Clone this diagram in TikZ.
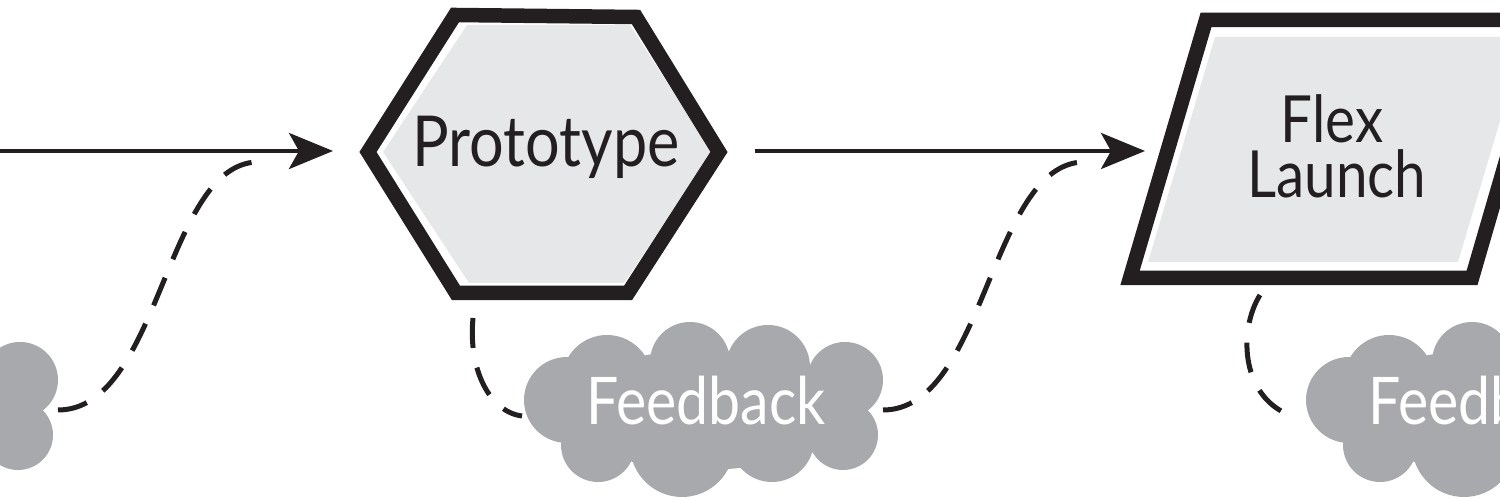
\documentclass[tikz,border=0pt]{standalone}
\usepackage{fontspec}
\newfontfamily\handfont{Lato}[FakeStretch=0.87]
\usetikzlibrary{arrows.meta}
\definecolor{ink}{HTML}{231F20}
\definecolor{panel}{HTML}{E6E7E8}
\definecolor{cloudgrey}{HTML}{A7A9AC}
\tikzset{
  pics/feedbackcloud/.style={code={
    \fill[cloudgrey]
      (-136,-8) circle[radius=43]
      (-105,37) circle[radius=37]
      (-96,-28) circle[radius=45]
      (-13,-46) circle[radius=40]
      (65,-41) circle[radius=42]
      (142,-28) circle[radius=38]
      (140,27) circle[radius=35]
      (-21,37) circle[radius=52]
      (69,32) circle[radius=42]
      (0,2) ellipse[x radius=140, y radius=60];
  }},
}
\begin{document}
\begin{tikzpicture}[x=0.1mm,y=-0.1mm,
  shapeborder/.style={draw=ink, line width=1.45mm, line join=miter},
  panelfill/.style={fill=panel},
  flow/.style={draw=ink, line width=0.42mm, -{Stealth[length=4.4mm,width=3.6mm,inset=1mm]}},
  fbline/.style={draw=ink, line width=0.5mm, dash pattern=on 3mm off 2mm},
  shapelabel/.style={text=ink, inner sep=0pt, font=\handfont\fontsize{20}{20}\selectfont},
  cloudlabel/.style={text=white, inner sep=0pt, font=\handfont\fontsize{18.7}{18}\selectfont},
]
\useasboundingbox (0,0) rectangle (1500,500);
\clip (0,0) rectangle (1500,500);

% hexagon "Prototype"
\fill[panelfill] (383,152) -- (467,25) -- (630,25) -- (712,152) -- (624,283) -- (469,283) -- cycle;
\draw[shapeborder] (368,152) -- (455,15) -- (636,17) -- (719,152) -- (628,293) -- (456,293) -- cycle;
\node[shapelabel, anchor=base] (proto) at (546,167) {Prototype};

% parallelogram "Flex Launch"
\fill[panelfill] (1215,37) -- (1148,262) -- (1458,262) -- (1525,37) -- cycle;
\draw[shapeborder] (1206,20) -- (1130,278) -- (1472,278) -- (1547,20) -- cycle;
\node[shapelabel, anchor=base, font=\handfont\fontsize{18.5}{18.5}\selectfont] (flex) at (1332,143) {Flex};
\node[shapelabel, anchor=base, font=\handfont\fontsize{18.5}{18.5}\selectfont] (launch) at (1337,198) {Launch};

% clouds
\pic at (-122,408) {feedbackcloud};
\pic at (703,408) {feedbackcloud};
\pic at (1485,408) {feedbackcloud};
\node[cloudlabel, anchor=base] (fb2) at (706,425) {Feedback};
\node[cloudlabel, anchor=base] (fb3) at (1488,425) {Feedback};

% connector end points
\coordinate (start) at (0,151);
\coordinate (protoin) at (333,151);
\coordinate (protoout) at (755,151);
\coordinate (flexin) at (1145,151);
\coordinate (fb1out) at (58,410);
\coordinate (fb1end) at (257,162);
\coordinate (protobottom) at (473,318);
\coordinate (fb2in) at (522,416);
\coordinate (fb2out) at (883,410);
\coordinate (fb2end) at (1083,162);
\coordinate (flexbottom) at (1260,295);
\coordinate (fb3in) at (1295,417);

% main flow
\draw[flow] (start) -- (protoin);
\draw[flow] (protoout) -- (flexin);

% feedback loops
\draw[fbline] (fb1out) .. controls (160,410) and (165,165) .. (fb1end);
\draw[fbline] (protobottom) .. controls (468,370) and (490,412) .. (fb2in);
\draw[fbline] (fb2out) .. controls (985,410) and (990,165) .. (fb2end);
\draw[fbline] (flexbottom) .. controls (1238,330) and (1240,400) .. (fb3in);
\end{tikzpicture}
\end{document}
